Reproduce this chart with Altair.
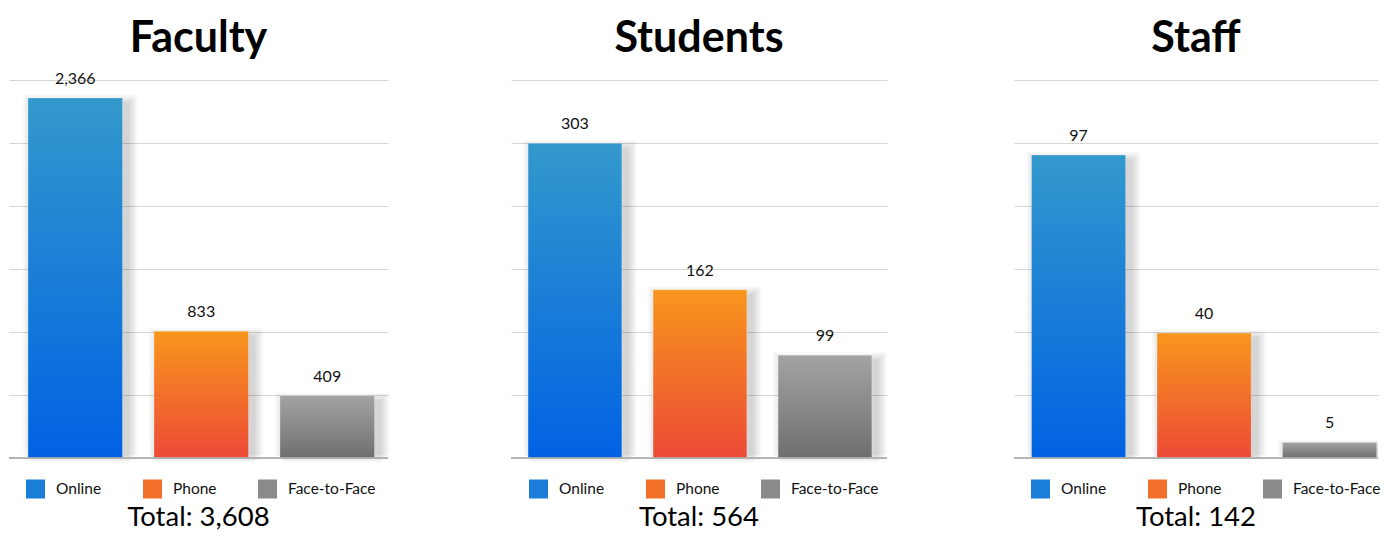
import altair as alt
import pandas as pd

# ---- data ----
categories = ["Online", "Phone", "Face-to-Face"]
panel_titles = ["Faculty", "Students", "Staff"]
faculty_values = [2366, 833, 409]
student_values = [303, 162, 99]
staff_values = [97, 40, 5]
totals = [3608, 564, 142]
axis_max = [2484, 364, 121]

# ---- style / layout ----
top_colors = ["#3399cc", "#f8961d", "#a3a3a3"]
bottom_colors = ["#0062e3", "#ec4a36", "#6f6f6f"]
legend_colors = ["#1a7ed8", "#f27029", "#8a8a8a"]
panel_widths = [379, 376, 364]
outer_pad = [0.129, 0.129, 0.075]
band_align = [0.585, 0.53, 0.93]
legend_x = [17, 18, 17]
clip_shadow = [False, False, True]
H = 378
FONT = "Lato"


def grad(i):
    return alt.Gradient(
        gradient="linear",
        stops=[alt.GradientStop(color=top_colors[i], offset=0),
               alt.GradientStop(color=bottom_colors[i], offset=1)],
        x1=0, x2=0, y1=0, y2=1,
    )


def panel(p, title, values, total, ymax):
    W = panel_widths[p]
    df = pd.DataFrame({
        "cat": categories,
        "value": values,
        "label": [f"{v:,}" for v in values],
    })
    base = alt.Chart(df)
    xscale = alt.Scale(domain=categories, paddingInner=0.25, paddingOuter=outer_pad[p],
                       align=band_align[p])
    x = alt.X("cat:N", scale=xscale, axis=None, sort=categories)
    y = alt.Y("value:Q",
              scale=alt.Scale(domain=[0, ymax], nice=False, zero=True),
              axis=alt.Axis(values=[ymax * k / 6 for k in range(7)], labels=False,
                            ticks=False, domain=False, title=None, grid=True,
                            gridColor="#d6d6d6", gridWidth=1, minExtent=0, maxExtent=0))

    layers = []
    # soft shadow (mostly right / bottom)
    for k in range(1, 7):
        layers.append(base.mark_bar(color="#000000", opacity=0.028,
                                    width={"band": 1 + 0.035 * k}, clip=clip_shadow[p],
                                    xOffset=5, yOffset=6 - 1.5 * k, y2Offset=3 + 2 * k)
                      .encode(x=x, y=y))
    # bars
    for i, c in enumerate(categories):
        layers.append(base.transform_filter(alt.datum.cat == c)
                      .mark_bar(fill=grad(i), stroke="#ffffff", strokeOpacity=0.25, strokeWidth=1)
                      .encode(x=x, y=y))
    # legend (drawn from the colour scale, no marks of its own)
    layers.append(base.transform_filter(alt.datum.value < 0)
                  .mark_square()
                  .encode(x=x, y=y,
                          color=alt.Color("cat:N",
                                          scale=alt.Scale(domain=categories, range=legend_colors),
                                          legend=alt.Legend(orient="none", legendX=legend_x[p],
                                                            legendY=H + 21.5,
                                                            direction="horizontal",
                                                            symbolType="square", symbolSize=361,
                                                            symbolStrokeWidth=0, symbolOpacity=1,
                                                            labelFontSize=15.5, labelFont=FONT,
                                                            labelColor="#111111", labelOffset=11,
                                                            columnPadding=41, padding=0,
                                                            title=None))))
    # baseline
    layers.append(base.mark_rule(color="#adadad", strokeWidth=1)
                  .encode(x=alt.value(0), x2=alt.value(W), y=alt.value(H)))
    # value labels
    layers.append(base.mark_text(dy=-14, baseline="alphabetic", fontSize=16, font=FONT,
                                 color="#111111")
                  .encode(x=x, y=y, text="label:N"))
    # title + total
    tdf = pd.DataFrame({"title": [title], "total": [f"Total: {total:,}"]})
    tb = alt.Chart(tdf)
    layers.append(tb.mark_text(fontSize=43, font=FONT, fontWeight="bold", baseline="alphabetic",
                               color="#000000")
                  .encode(x=alt.value(W / 2), y=alt.value(-28), text="title:N"))
    layers.append(tb.mark_text(fontSize=27.5, font=FONT, baseline="alphabetic", color="#000000")
                  .encode(x=alt.value(W / 2), y=alt.value(H + 68), text="total:N"))

    return (alt.layer(*layers).properties(width=W, height=H)
            .resolve_scale(color="independent"))


p0 = panel(0, panel_titles[0], faculty_values, totals[0], axis_max[0])
p1 = panel(1, panel_titles[1], student_values, totals[1], axis_max[1])
p2 = panel(2, panel_titles[2], staff_values, totals[2], axis_max[2])

left_pair = (alt.hconcat(p0, p1, spacing=120)
             .resolve_scale(x="independent", y="independent", color="independent")
             .resolve_legend(color="independent"))

chart = (alt.hconcat(left_pair, p2, spacing=125)
         .resolve_scale(x="independent", y="independent", color="independent")
         .resolve_legend(color="independent")
         .properties(padding={"left": 0, "top": 10, "right": 0, "bottom": 0},
                     background="#ffffff")
         .configure_view(stroke=None))

chart.save("out.html", embed_options={"renderer": "svg", "actions": False})
